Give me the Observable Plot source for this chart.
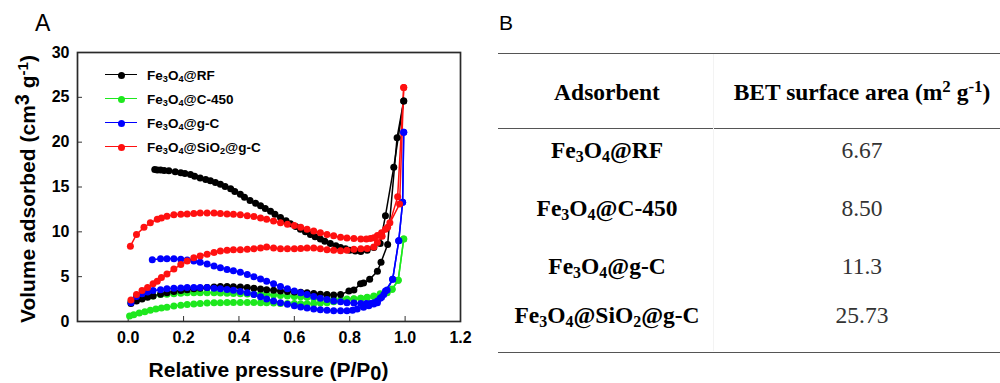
<!DOCTYPE html>
<html><head><meta charset="utf-8">
<script src="https://cdn.jsdelivr.net/npm/d3@7"></script>
<script src="https://cdn.jsdelivr.net/npm/@observablehq/plot@0.6"></script>
<style>
body{margin:0;background:#fff;}
#wrap{position:relative;width:1000px;height:383px;overflow:hidden;font-family:"Liberation Sans",Arial,sans-serif;color:#000;}
.abs{position:absolute;white-space:nowrap;}
#chart{position:absolute;left:0;top:0;}
sub{font-size:0.68em;vertical-align:-0.28em;line-height:0;}
sup{font-size:0.72em;vertical-align:0.45em;line-height:0;}
.tcell{position:absolute;white-space:nowrap;font-family:"Liberation Serif","Times New Roman",serif;font-size:23.5px;transform:translate(-50%,-50%);}
.hline{position:absolute;left:498px;width:502px;height:0;border-top:1.6px solid #555;}
</style></head>
<body><div id="wrap"><div id="chart"></div></div>
<script>
// ---------- data ----------
const seriesNames = ["Fe3O4@RF", "Fe3O4@C-450", "Fe3O4@g-C", "Fe3O4@SiO2@g-C"];
const seriesColors = ["#000000", "#1ee81e", "#0000ff", "#ff1010"];
const betValues = ["6.67", "8.50", "11.3", "25.73"];
const xTicks = [0, 0.2, 0.4, 0.6, 0.8, 1.0, 1.2];
const yTicks = [0, 5, 10, 15, 20, 25, 30];

// [P/P0, volume] pairs, adsorption branch (low -> high P)
const rfAds = [[0.01,2.0],[0.03,2.3],[0.05,2.5],[0.07,2.7],[0.09,2.85],[0.117,3.05],[0.14,3.2],[0.165,3.35],[0.19,3.45],[0.213,3.55],[0.237,3.65],[0.26,3.7],[0.285,3.8],[0.31,3.85],[0.333,3.9],[0.357,3.9],[0.38,3.88],[0.405,3.85],[0.43,3.78],[0.454,3.7],[0.478,3.62],[0.5,3.55],[0.525,3.48],[0.55,3.4],[0.575,3.35],[0.6,3.3],[0.623,3.25],[0.646,3.2],[0.67,3.12],[0.694,3.05],[0.718,3.0],[0.742,2.95],[0.767,3.0],[0.797,3.4],[0.815,3.5],[0.839,4.2],[0.85,4.3],[0.872,4.7],[0.9,5.6],[0.913,6.6],[0.937,8.6],[0.971,20.5],[0.995,24.6]];
// desorption branch (high -> low P)
const rfDes = [[0.995,24.6],[0.959,17.2],[0.929,11.8],[0.91,8.7],[0.887,8.25],[0.863,7.95],[0.84,7.8],[0.82,7.85],[0.8,7.95],[0.785,8.1],[0.767,8.25],[0.75,8.45],[0.73,8.7],[0.71,8.95],[0.694,9.2],[0.675,9.45],[0.658,9.7],[0.64,10.0],[0.622,10.3],[0.605,10.6],[0.586,10.9],[0.57,11.25],[0.55,11.6],[0.53,11.95],[0.514,12.3],[0.495,12.6],[0.478,12.9],[0.46,13.2],[0.44,13.5],[0.42,13.85],[0.405,14.2],[0.385,14.5],[0.37,14.8],[0.35,15.05],[0.333,15.3],[0.315,15.5],[0.297,15.7],[0.28,15.85],[0.26,16.0],[0.24,16.2],[0.225,16.4],[0.205,16.5],[0.19,16.6],[0.17,16.7],[0.147,16.8],[0.13,16.85],[0.117,16.9],[0.105,16.9],[0.096,16.95]];

const c450Ads = [[0.005,0.6],[0.02,0.75],[0.04,0.95],[0.06,1.1],[0.08,1.25],[0.1,1.4],[0.12,1.5],[0.14,1.6],[0.165,1.72],[0.19,1.82],[0.213,1.9],[0.237,1.96],[0.26,2.0],[0.285,2.05],[0.31,2.08],[0.333,2.1],[0.357,2.12],[0.38,2.12],[0.405,2.13],[0.43,2.13],[0.454,2.12],[0.478,2.1],[0.5,2.08],[0.525,2.05],[0.55,2.02],[0.575,2.0],[0.6,2.0],[0.623,1.98],[0.646,1.98],[0.67,2.0],[0.694,2.05],[0.718,2.1],[0.742,2.2],[0.767,2.3],[0.79,2.4],[0.815,2.5],[0.84,2.6],[0.863,2.7],[0.887,2.85],[0.91,3.1],[0.935,3.3],[0.953,3.6],[0.975,4.6],[0.995,9.2]];
const c450Des = [[0.995,9.2],[0.975,4.6],[0.953,3.6],[0.935,3.2],[0.91,3.0],[0.887,2.8],[0.863,2.65],[0.84,2.6],[0.815,2.55],[0.79,2.5],[0.767,2.45],[0.742,2.45],[0.718,2.5],[0.694,2.55],[0.67,2.62],[0.646,2.7],[0.623,2.75],[0.6,2.8],[0.575,2.85],[0.55,2.9],[0.525,2.95],[0.5,3.0],[0.478,3.03],[0.454,3.05],[0.43,3.08],[0.405,3.1],[0.38,3.13],[0.357,3.15],[0.333,3.18],[0.31,3.2],[0.285,3.2],[0.26,3.2],[0.237,3.2],[0.213,3.2],[0.19,3.15],[0.165,3.1],[0.14,3.05],[0.117,3.0],[0.09,2.85],[0.07,2.75],[0.05,2.6],[0.03,2.45],[0.01,2.2]];

const gcAds = [[0.01,2.1],[0.03,2.8],[0.05,3.1],[0.07,3.3],[0.09,3.45],[0.117,3.55],[0.14,3.65],[0.165,3.7],[0.19,3.75],[0.213,3.8],[0.237,3.8],[0.26,3.8],[0.285,3.78],[0.31,3.72],[0.333,3.65],[0.357,3.58],[0.38,3.48],[0.405,3.35],[0.43,3.2],[0.454,3.0],[0.478,2.75],[0.5,2.5],[0.525,2.3],[0.55,2.1],[0.575,1.92],[0.6,1.75],[0.623,1.62],[0.646,1.5],[0.67,1.4],[0.694,1.3],[0.718,1.25],[0.742,1.2],[0.767,1.2],[0.79,1.2],[0.81,1.25],[0.827,1.4],[0.85,1.6],[0.869,1.75],[0.887,1.95],[0.9,2.1],[0.915,2.7],[0.929,3.4],[0.955,4.7],[0.977,9.0],[0.991,13.3],[0.995,21.1]];
const gcDes = [[0.995,21.1],[0.991,13.3],[0.977,9.0],[0.955,4.7],[0.935,3.5],[0.923,3.0],[0.91,2.6],[0.9,2.3],[0.887,2.1],[0.875,2.0],[0.86,2.0],[0.84,2.0],[0.815,2.05],[0.79,2.1],[0.767,2.2],[0.742,2.3],[0.718,2.45],[0.694,2.6],[0.67,2.8],[0.646,3.0],[0.623,3.2],[0.6,3.4],[0.575,3.65],[0.55,3.9],[0.525,4.2],[0.5,4.5],[0.478,4.75],[0.454,5.0],[0.43,5.25],[0.405,5.5],[0.38,5.65],[0.357,5.8],[0.333,6.0],[0.31,6.2],[0.285,6.4],[0.26,6.6],[0.237,6.75],[0.213,6.85],[0.19,6.95],[0.165,7.0],[0.14,7.0],[0.117,7.0],[0.087,6.9]];

const sgcAds = [[0.01,2.4],[0.03,3.0],[0.05,3.45],[0.07,3.8],[0.09,4.2],[0.105,4.5],[0.12,4.9],[0.14,5.3],[0.165,5.85],[0.19,6.35],[0.213,6.75],[0.237,7.1],[0.26,7.3],[0.285,7.5],[0.31,7.7],[0.333,7.85],[0.357,7.95],[0.38,8.0],[0.405,8.0],[0.43,8.05],[0.454,8.1],[0.478,8.2],[0.5,8.3],[0.525,8.2],[0.55,8.1],[0.575,8.1],[0.6,8.1],[0.623,8.15],[0.646,8.2],[0.67,8.2],[0.694,8.1],[0.718,8.0],[0.742,7.95],[0.767,7.9],[0.79,7.95],[0.815,8.05],[0.84,8.1],[0.863,8.15],[0.887,8.3],[0.9,8.8],[0.917,9.5],[0.937,10.5],[0.98,13.1],[0.995,26.1]];
const sgcDes = [[0.995,26.1],[0.973,13.9],[0.945,11.0],[0.929,10.3],[0.915,9.9],[0.9,9.6],[0.887,9.35],[0.875,9.25],[0.86,9.2],[0.84,9.2],[0.815,9.25],[0.79,9.3],[0.767,9.4],[0.742,9.55],[0.718,9.7],[0.694,9.9],[0.67,10.1],[0.646,10.3],[0.623,10.5],[0.6,10.7],[0.575,10.85],[0.55,11.0],[0.525,11.2],[0.5,11.4],[0.478,11.55],[0.454,11.7],[0.43,11.8],[0.405,11.9],[0.38,11.95],[0.357,12.0],[0.333,12.05],[0.31,12.1],[0.285,12.1],[0.26,12.1],[0.237,12.05],[0.213,12.0],[0.19,11.95],[0.165,11.9],[0.14,11.75],[0.12,11.55],[0.105,11.4],[0.08,11.0],[0.057,10.5],[0.03,9.7],[0.008,8.4]];

const branches = [[rfAds, rfDes], [c450Ads, c450Des], [gcAds, gcDes], [sgcAds, sgcDes]];
const drawOrder = [1, 0, 2, 3];

// ---------- build table ----------
const rows = [];
drawOrder.forEach(i => {
  branches[i].forEach((br, b) => {
    br.forEach(([p, v]) => rows.push({series: seriesNames[i], key: i + "-" + b, p, v}));
  });
});

const chart = Plot.plot({
  width: 480, height: 383,
  marginLeft: 77, marginRight: 20, marginTop: 52, marginBottom: 62,
  style: {fontFamily: '"Liberation Sans", Arial, sans-serif', fontWeight: "bold", background: "transparent", color: "#000"},
  x: {domain: [-0.183, 1.2], label: null},
  y: {domain: [0, 30], label: null},
  color: {domain: seriesNames, range: seriesColors},
  marks: [
    Plot.axisX({ticks: xTicks, tickSize: -5, tickFormat: () => "", stroke: "#333"}),
    Plot.axisY({ticks: yTicks, tickSize: -5, tickFormat: () => "", stroke: "#333"}),
    Plot.axisX({ticks: xTicks, tickSize: 0, tickPadding: 10, tickFormat: d3.format(".1f"), fontSize: 16}),
    Plot.axisY({ticks: yTicks, tickSize: 0, tickPadding: 8, fontSize: 16}),
    Plot.line(rows, {x: "p", y: "v", z: "key", stroke: "series", strokeWidth: 1.5}),
    Plot.dot(rows, {x: "p", y: "v", fill: "series", r: 3.5, stroke: "none"}),
    Plot.frame({stroke: "#2a2a2a", strokeWidth: 1.7})
  ]
});
document.getElementById("chart").appendChild(chart);

// ---------- overlays ----------
const wrap = document.getElementById("wrap");
const fmtName = s => s.replace(/([A-Za-z])(\d)(?=[A-Z@])/g, "$1<sub>$2</sub>");
function add(html, style, cls) {
  const d = document.createElement("div");
  d.className = cls || "abs";
  d.innerHTML = html;
  Object.assign(d.style, style);
  wrap.appendChild(d);
  return d;
}
// panel letters
add("A", {left: "35px", top: "10px", fontSize: "23px"});
add("B", {left: "499px", top: "11px", fontSize: "21px"});
// axis titles
add("Relative pressure (P/P<span style='font-size:0.95em;vertical-align:-0.15em;line-height:0'>0</span>)", {left: "268.5px", top: "358px", transform: "translateX(-50%)", fontSize: "21px", fontWeight: "bold", lineHeight: "24px"});
add("Volume adsorbed (cm<sup style='font-size:0.95em;vertical-align:0.3em'>3</sup> g<sup>-1</sup>)", {left: "28px", top: "189px", transform: "translate(-50%,-50%) rotate(-90deg)", fontSize: "21px", fontWeight: "bold"});
// legend
const legY = [75, 99, 123, 147];
seriesNames.forEach((n, i) => {
  add("", {left: "105px", top: (legY[i] - 0.7) + "px", width: "32px", height: "0", borderTop: "1.5px solid " + seriesColors[i]});
  add("", {left: "117.5px", top: (legY[i] - 3.5) + "px", width: "7px", height: "7px", borderRadius: "50%", background: seriesColors[i]});
  add(fmtName(n), {left: "147px", top: legY[i] + "px", transform: "translateY(-50%)", fontSize: "13.5px", fontWeight: "bold"});
});
// table
add("", {top: "53px"}, "hline");
add("", {top: "128px"}, "hline");
add("", {top: "352px"}, "hline");
add("", {left: "713px", top: "54px", width: "0", height: "297px", borderLeft: "1px solid #f3f3f3"});
add("Adsorbent", {left: "607px", top: "92px", fontWeight: "bold"}, "tcell");
add("BET surface area (m<sup>2</sup> g<sup>-1</sup>)", {left: "862px", top: "92px", fontWeight: "bold"}, "tcell");
const rowY = [150, 208, 266, 315];
seriesNames.forEach((n, i) => {
  add(fmtName(n), {left: "607px", top: rowY[i] + "px", fontWeight: "bold"}, "tcell");
  add(betValues[i], {left: "862px", top: rowY[i] + "px", color: "#333"}, "tcell");
});
</script></body></html>
